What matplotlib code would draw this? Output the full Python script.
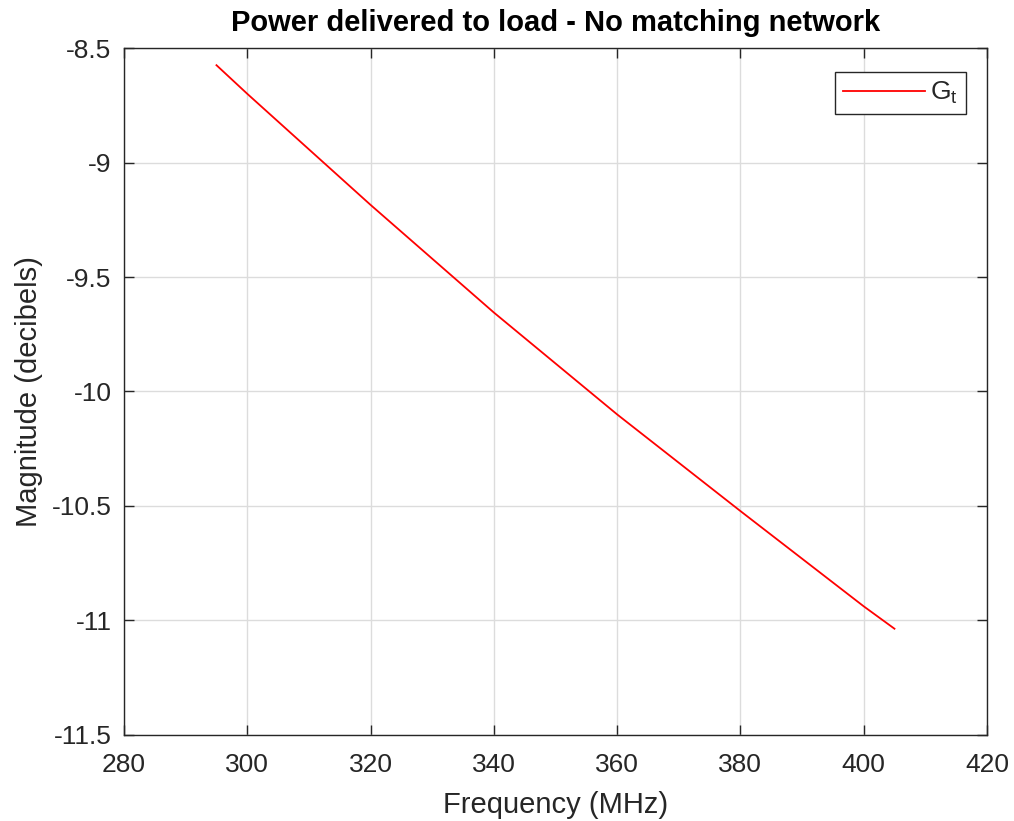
import matplotlib.pyplot as plt

freq_mhz = [295, 300, 320, 340, 360, 380, 400, 405]
gt_db = [-8.575, -8.700, -9.185, -9.655, -10.100, -10.522, -10.938, -11.036]

x_ticks = [280, 300, 320, 340, 360, 380, 400, 420]
y_ticks = [-11.5, -11, -10.5, -10, -9.5, -9, -8.5]
y_labels = ['-11.5', '-11', '-10.5', '-10', '-9.5', '-9', '-8.5']

plt.rcParams['font.family'] = ['Liberation Sans', 'DejaVu Sans']
plt.rcParams['mathtext.fontset'] = 'custom'
plt.rcParams['mathtext.rm'] = 'Liberation Sans'
plt.rcParams['mathtext.it'] = 'Liberation Sans'

dark = '#262626'

fig = plt.figure(figsize=(10.14, 8.21), dpi=100)
ax = fig.add_axes([0.1223, 0.1048, 0.851, 0.8367])

ax.plot(freq_mhz, gt_db, color='#ff0000', lw=1.3, label=r'G$_\mathrm{t}$')

ax.set_xlim(280, 420)
ax.set_ylim(-11.5, -8.5)
ax.set_xticks(x_ticks)
ax.set_yticks(y_ticks)
ax.set_yticklabels(y_labels)

ax.grid(True, color='#dcdcdc', lw=1.0)
ax.set_axisbelow(True)
ax.tick_params(direction='in', top=True, right=True, length=7, width=1.0,
               labelsize=19, colors=dark)
ax.tick_params(axis='x', pad=13)
ax.tick_params(axis='y', pad=9)
for s in ax.spines.values():
    s.set_color(dark)
    s.set_linewidth(1.0)

ax.set_xlabel('Frequency (MHz)', fontsize=21, color=dark, labelpad=10)
ax.set_ylabel('Magnitude (decibels)', fontsize=21, color=dark, labelpad=6)
ax.set_title('Power delivered to load - No matching network', fontsize=21,
             fontweight='bold', color='black', pad=12)

leg = ax.legend(loc='upper right', fontsize=19, fancybox=False, framealpha=1,
                edgecolor=dark, handlelength=3.1, borderpad=0.3,
                borderaxespad=0, bbox_to_anchor=(0.9757, 0.965),
                handletextpad=0.2)
leg.get_frame().set_linewidth(1.0)
for t in leg.get_texts():
    t.set_color(dark)

fig.savefig('out.png', dpi=100)
